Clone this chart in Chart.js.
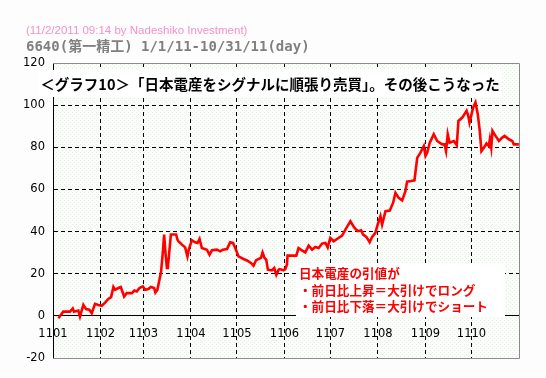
<!DOCTYPE html>
<html>
<head>
<meta charset="utf-8">
<script src="https://cdn.jsdelivr.net/npm/chart.js@4/dist/chart.umd.min.js"></script>
<style>
  html, body { margin: 0; padding: 0; background: #fcfdfc; }
  #wrap { width: 546px; height: 378px; }
</style>
</head>
<body>
<div id="wrap"><canvas id="lineChart" width="546" height="378"></canvas></div>
<script>
// day of year (0 = Jan 1) and value
var days = [3.5, 6.7, 11.1, 12.9, 13.7, 16.5, 17.6, 19.8, 21.6, 23.7, 25.3, 27.4, 29.6, 31.8, 34, 36.1, 37.9,
  39.4, 40.5, 42.7, 44.2, 46.4, 48.1, 51.4, 53.1, 54.7, 56.4, 58.6, 60.1, 62.2, 63.8, 66, 66.8, 68.1,
  69.4, 70.5, 71.7, 72.5, 73.2, 74.3, 74.9, 76, 76.9, 80.3, 81.2, 81.8, 83, 84.1, 86.2, 87.7, 88.6,
  90.6, 92.7, 94.3, 95.6, 97.1, 100.4, 102.1, 103.7, 106.9, 109.1, 110.8, 113.5, 115.6, 117.4, 118.9,
  121, 124.3, 126.5, 129.1, 130.8, 132.4, 134.1, 135.7, 136.7, 138, 139.1, 140.2, 142.8, 144.3, 145.7,
  147.2, 147.8, 150.4, 151.5, 152.6, 153, 158.7, 160.2, 162.4, 164.6, 166.8, 169, 171.1, 173.3, 175.5,
  177.7, 179.2, 180.9, 183.1, 185.3, 188.6, 191.4, 194, 196.6, 198.8, 201, 202.3, 204.4, 206.6, 208.2,
  210.3, 211.8, 213.6, 214.7, 216.9, 219.7, 221.9, 223.4, 225.5, 227.8, 229.9, 231, 233.6, 235.8,
  236.4, 237.6, 239.7, 241.9, 243, 244.1, 245.8, 248.4, 250.6, 253.9, 255.4, 256.4, 257.5, 258.7,
  261.5, 263.4, 264.5, 267, 269.8, 270.9, 271.7, 272.8, 274.1, 275.6, 277.1, 278.4, 279.5, 281.1,
  282.8, 284.3, 285, 285.9, 286.7, 288.7, 290.9, 293.1, 294.6, 297.4, 299.6, 300.6, 303.9];
var values = [-1.1, 2, 2, 3.5, 2, 2.5, -0.3, 5.2, 3.2, 2.9, 1.3, 5.7, 5.2, 4.8, 6.3, 8, 8.9,
  13.7, 12.4, 13.2, 13.7, 9.2, 10.8, 10.8, 12, 11.6, 13.2, 14, 12.4, 12.7, 13.7, 13.2, 11.1, 12.4,
  17, 21, 30.6, 38.6, 31.4, 22.7, 22.7, 31.4, 38.6, 38.6, 36.2, 35.4, 34.6, 33.8, 32.5, 28.2, 31.4,
  35.9, 34.9, 34.6, 36.5, 32.2, 31.4, 29, 31.1, 31.4, 30.6, 31.4, 31.7, 34.9, 34.6, 32.2,
  28.2, 27, 26.3, 25.1, 23.8, 26.3, 27, 27.5, 30.1, 27.5, 26.7, 21.9, 21.6, 22.7, 19.5,
  21.9, 22.2, 21.6, 22.2, 24.3, 28.6, 28.6, 32.2, 31.1, 30.1, 33.3, 31.4, 32.7, 32.2, 34.3,
  34.6, 32.5, 37, 35.4, 36.5, 38.1, 41.8, 44.9, 41.8, 40.2, 40.6, 38.6, 37.5, 34.9, 37.5,
  39.4, 43.3, 47.3, 43.3, 49.7, 50, 53.7, 58.4, 56, 54.8, 59.2, 63.7, 64, 64.3,
  67.9, 75, 77.5, 80.6, 75.9, 77.5, 82.2, 86.2, 83, 81.4, 81.4, 78.2, 86.2, 82.2,
  83, 81, 92.5, 94.1, 97.3, 94.9, 91.7, 94.9, 98.9, 101.3, 95.7, 87.8, 78.2, 79.8,
  81.8, 80.6, 83.8, 79.8, 87.8, 85.4, 83, 84.6, 85.4, 83.8, 83, 81.4, 81.4];

var monthStarts = [0, 31, 59, 90, 120, 151, 181, 212, 243, 273];
var monthLabels = ['1101', '1102', '1103', '1104', '1105', '1106', '1107', '1108', '1109', '1110'];
var yTicks = [-20, 0, 20, 40, 60, 80, 100, 120];

var headerLine1 = '(11/2/2011 09:14 by Nadeshiko Investment)';
var headerLine2 = '6640(第一精工) 1/1/11-10/31/11(day)';
var titleText = '＜グラフ10＞「日本電産をシグナルに順張り売買」。その後こうなった';
var noteLines = ['日本電産の引値が', '・前日比上昇＝大引けでロング', '・前日比下落＝大引けでショート'];

var points = days.map(function(d, i) { return { x: d, y: values[i] }; });

// dotted pale green plot background
var pat = document.createElement('canvas');
pat.width = 4; pat.height = 4;
var pc = pat.getContext('2d');
pc.fillStyle = '#fbfdfa';
pc.fillRect(0, 0, 4, 4);
pc.fillStyle = '#e3f2e0';
pc.fillRect(0, 0, 1, 1);
pc.fillRect(2, 2, 1, 1);

var framePlugin = {
    id: 'frame',
    beforeDraw: function(chart) {
        var a = chart.chartArea, ctx = chart.ctx;
        ctx.save();
        ctx.fillStyle = ctx.createPattern(pat, 'repeat');
        ctx.fillRect(a.left, a.top, a.right - a.left, a.bottom - a.top);
        ctx.restore();
    },
    beforeDatasetsDraw: function(chart) {
        var a = chart.chartArea, ctx = chart.ctx;
        ctx.save();
        ctx.strokeStyle = '#8c8c8c';
        ctx.lineWidth = 1;
        ctx.beginPath();
        ctx.moveTo(a.left, a.top + 0.5);
        ctx.lineTo(a.right + 0.5, a.top + 0.5);
        ctx.lineTo(a.right + 0.5, a.bottom + 0.5);
        ctx.lineTo(a.left, a.bottom + 0.5);
        ctx.stroke();
        ctx.restore();
    },
    afterDraw: function(chart) {
        var ctx = chart.ctx;
        ctx.save();
        ctx.textBaseline = 'middle';
        ctx.textAlign = 'left';
        ctx.fillStyle = '#f58fcb';
        ctx.font = '11.5px "Liberation Sans", sans-serif';
        ctx.fillText(headerLine1, 26, 31);
        ctx.fillStyle = '#808080';
        ctx.font = 'bold 14px "DejaVu Sans Mono", "Noto Sans CJK JP", monospace';
        ctx.fillText(headerLine2, 26, 47);

        ctx.fillStyle = '#ffffff';
        ctx.fillRect(38, 70, 464, 27);
        ctx.fillStyle = '#000000';
        ctx.font = 'bold 14.5px "Noto Sans CJK JP", sans-serif';
        ctx.textAlign = 'center';
        ctx.fillText(titleText, 270, 84, 462);

        ctx.fillStyle = '#ffffff';
        ctx.fillRect(296, 263, 209, 54);
        ctx.fillStyle = '#ff0000';
        ctx.font = 'bold 12.6px "Noto Sans CJK JP", sans-serif';
        ctx.textAlign = 'left';
        var ys = [273, 290, 306];
        noteLines.forEach(function(t, i) { ctx.fillText(t, 299, ys[i]); });
        ctx.restore();
    }
};

document.addEventListener("DOMContentLoaded", function() {
    var ctx = document.getElementById('lineChart').getContext('2d');
    var lineChart = new Chart(ctx, {
        type: 'line',
        data: {
            datasets: [{
                label: '6640',
                data: points,
                borderColor: '#ff0000',
                borderWidth: 2.6,
                pointRadius: 0,
                tension: 0,
                fill: false
            }]
        },
        options: {
            responsive: false,
            animation: false,
            layout: { padding: { left: 0, top: 63, right: 27, bottom: 20 } },
            plugins: { legend: { display: false }, tooltip: { enabled: false } },
            scales: {
                x: {
                    type: 'linear',
                    min: 0,
                    max: 304,
                    position: { y: 0 },
                    afterBuildTicks: function(scale) {
                        scale.ticks = monthStarts.map(function(v) { return { value: v }; });
                    },
                    ticks: {
                        autoSkip: false,
                        maxRotation: 0,
                        padding: 11,
                        color: '#000000',
                        font: { family: '"DejaVu Sans", sans-serif', size: 11.5 },
                        callback: function(v) {
                            var i = monthStarts.indexOf(v);
                            return i >= 0 ? monthLabels[i] : '';
                        }
                    },
                    grid: {
                        drawTicks: false,
                        color: function(c) { return c.tick && c.tick.value === 0 ? 'rgba(0,0,0,0)' : '#000000'; },
                        lineWidth: 1
                    },
                    border: { display: true, color: '#000000', width: 1, dash: [4, 3] }
                },
                y: {
                    min: -20,
                    max: 120,
                    afterFit: function(scale) { scale.width = 53; },
                    afterBuildTicks: function(scale) {
                        scale.ticks = yTicks.map(function(v) { return { value: v }; });
                    },
                    ticks: {
                        padding: 8,
                        color: '#000000',
                        font: { family: '"DejaVu Sans", sans-serif', size: 11.5 }
                    },
                    grid: {
                        drawTicks: false,
                        color: function(c) {
                            var v = c.tick ? c.tick.value : null;
                            return (v === -20 || v === 0 || v === 120) ? 'rgba(0,0,0,0)' : '#000000';
                        },
                        lineWidth: 1
                    },
                    border: { display: true, color: '#000000', width: 1, dash: [4, 3] }
                }
            }
        },
        plugins: [framePlugin]
    });
});
</script>
</body>
</html>
